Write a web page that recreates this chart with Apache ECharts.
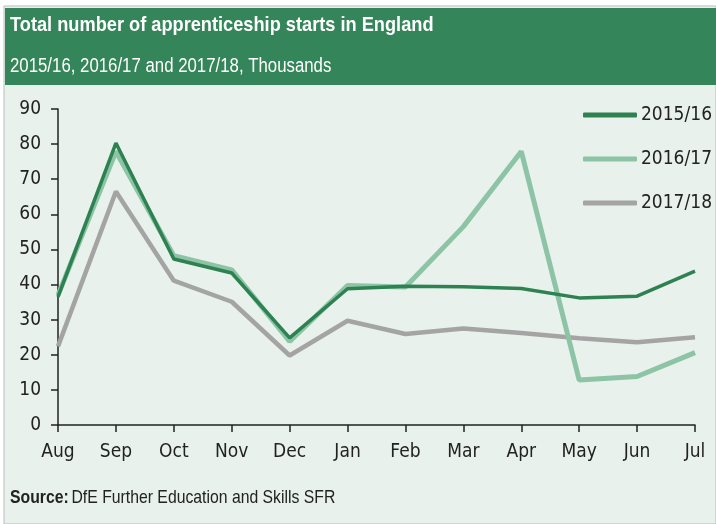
<!DOCTYPE html>
<html>
<head>
<meta charset="utf-8">
<script src="https://cdn.jsdelivr.net/npm/echarts@6/dist/echarts.min.js"></script>
<style>
html,body{margin:0;padding:0;background:#fff;}
#c{width:716px;height:524px;}
</style>
</head>
<body>
<div id="c"></div>
<script>
const months = ['Aug','Sep','Oct','Nov','Dec','Jan','Feb','Mar','Apr','May','Jun','Jul'];
const s2015 = [36.5, 80.3, 47.3, 43.3, 24.8, 38.8, 39.5, 39.4, 38.9, 36.2, 36.7, 43.8];
const s2016 = [37, 77.9, 48.2, 44.2, 23.8, 39.7, 39.3, 56.5, 77.9, 12.8, 13.8, 20.6];
const s2017 = [22.4, 66.5, 41.1, 35.1, 19.8, 29.7, 25.9, 27.5, 26.2, 24.7, 23.6, 25.0];
const yTicks = [0, 90, 10];
const seriesNames = ['2015/16', '2016/17', '2017/18'];

const FONT = '"DejaVu Sans Condensed", "Liberation Sans", sans-serif';
const FONT2 = '"Liberation Sans", Arial, sans-serif';
const chart = echarts.init(document.getElementById('c'), null, {renderer: 'canvas'});
chart.setOption({
  backgroundColor: '#ffffff',
  animation: false,
  graphic: [
    {type: 'rect', shape: {x: 4, y: 6, width: 712, height: 518}, style: {fill: '#e8f1ec', stroke: '#b9bdbb', lineWidth: 1}, z: -10, silent: true},
    {type: 'rect', shape: {x: 5, y: 8, width: 711, height: 77}, style: {fill: '#348559'}, z: -9, silent: true},
    {type: 'text', x: 10, y: 15, scaleX: 0.867, style: {text: 'Total number of apprenticeship starts in England', fill: '#ffffff', font: 'bold 21px ' + FONT2}},
    {type: 'text', x: 10, y: 56, scaleX: 0.84, style: {text: '2015/16, 2016/17 and 2017/18, Thousands', fill: '#ffffff', font: '20px ' + FONT2}},
    {type: 'text', x: 10, y: 488, scaleX: 0.83, style: {rich: {b: {font: 'bold 19px ' + FONT2, fill: '#222'}, r: {font: '19px ' + FONT2, fill: '#222'}}, text: '{b|Source:} {r|DfE Further Education and Skills SFR}'}}
  ],
  grid: {left: 58, right: 21, top: 109, bottom: 99, containLabel: false},
  legend: {
    orient: 'vertical', left: 583, top: 105, padding: 0, itemWidth: 54, itemHeight: 5, itemGap: 24,
    icon: 'roundRect',
    textStyle: {fontFamily: FONT, fontSize: 19, color: '#222', lineHeight: 20, padding: [0,0,0,-1]},
    data: seriesNames
  },
  xAxis: {
    type: 'category', data: months, boundaryGap: false,
    axisLine: {lineStyle: {color: '#222', width: 1.5}},
    axisTick: {alignWithLabel: true, length: 7, lineStyle: {color: '#222', width: 1.5}},
    axisLabel: {color: '#222', fontFamily: FONT, fontSize: 19, margin: 18, interval: 0}
  },
  yAxis: {
    type: 'value', min: yTicks[0], max: yTicks[1], interval: yTicks[2],
    splitLine: {show: false},
    axisLine: {show: true, lineStyle: {color: '#222', width: 1.5}},
    axisTick: {show: true, length: 7, lineStyle: {color: '#222', width: 1.5}},
    axisLabel: {color: '#222', fontFamily: FONT, fontSize: 19, margin: 17}
  },
  series: [
    {name: seriesNames[0], type: 'line', data: s2015, symbol: 'none', z: 4, lineStyle: {color: '#2e8252', width: 3.5}, itemStyle: {color: '#2e8252'}},
    {name: seriesNames[1], type: 'line', data: s2016, symbol: 'none', z: 3, lineStyle: {color: '#8cc4a5', width: 5}, itemStyle: {color: '#8cc4a5'}},
    {name: seriesNames[2], type: 'line', data: s2017, symbol: 'none', z: 2, lineStyle: {color: '#a4a4a4', width: 4.5}, itemStyle: {color: '#a4a4a4'}}
  ]
});
</script>
</body>
</html>
